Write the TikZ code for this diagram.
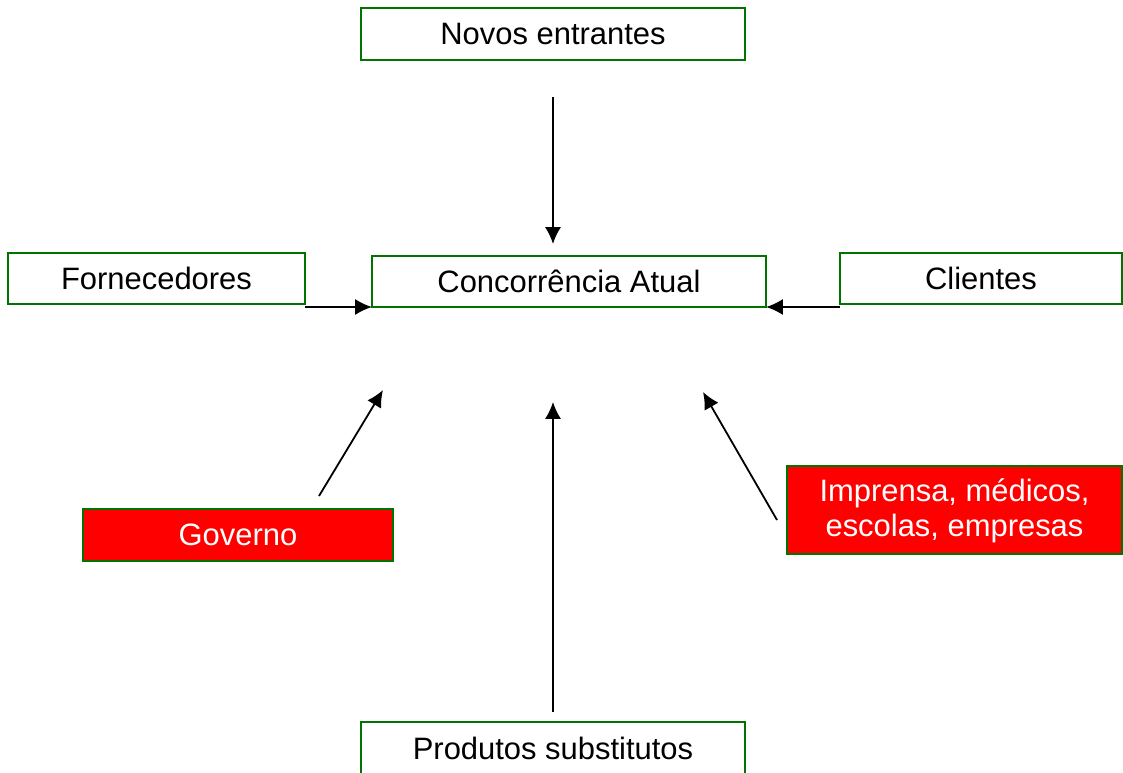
\documentclass[tikz,border=0pt]{standalone}
\usepackage{fontspec}
\setmainfont{Liberation Sans}
\usetikzlibrary{arrows.meta}

\tikzset{
  box/.style={draw=green!45!black,line width=0.05cm,fill=white,inner sep=0pt,outer sep=0pt,
    align=center,font=\fontsize{22}{25}\selectfont},
  redbox/.style={box,fill=red,text=white},
  arr/.style={line width=0.045cm,-{Latex[length=4.2mm,width=4mm]}}
}

\begin{document}
\begin{tikzpicture}[x=0.025cm,y=-0.025cm]
\useasboundingbox (0,0) rectangle (1123,773);

% boxes
\node[box,minimum width=9.6cm,minimum height=1.3cm] (novos) at (553,34) {Novos entrantes};
\node[box,minimum width=7.425cm,minimum height=1.275cm] (forn) at (156.5,278.5) {Fornecedores};
\node[box,minimum width=9.85cm,minimum height=1.275cm] (conc) at (569,281.5) {Concorrência Atual};
\node[box,minimum width=7.05cm,minimum height=1.275cm] (cli) at (981,278.5) {Clientes};
\node[redbox,minimum width=7.75cm,minimum height=1.3cm] (gov) at (238,535) {Governo};
\node[redbox,minimum width=8.375cm,minimum height=2.2cm,text depth=0.1cm] (imp) at (954.5,510) {Imprensa, médicos,\\escolas, empresas};
\node[box,minimum width=9.6cm,minimum height=1.3cm] (prod) at (553,748) {Produtos substitutos};

% free ends of the arrows
\coordinate (novosA) at (553,97);
\coordinate (novosB) at (553,244);
\coordinate (govA) at (319,496);
\coordinate (govB) at (383,390);
\coordinate (impA) at (777,520);
\coordinate (impB) at (703,392);
\coordinate (prodA) at (553,712);
\coordinate (prodB) at (553,402);

\draw[arr] (novosA) -- (novosB);
\draw[arr] (forn.south east |- conc.south west) -- (conc.south west);
\draw[arr] (cli.south west |- conc.south east) -- (conc.south east);
\draw[arr] (govA) -- (govB);
\draw[arr] (impA) -- (impB);
\draw[arr] (prodA) -- (prodB);
\end{tikzpicture}
\end{document}
